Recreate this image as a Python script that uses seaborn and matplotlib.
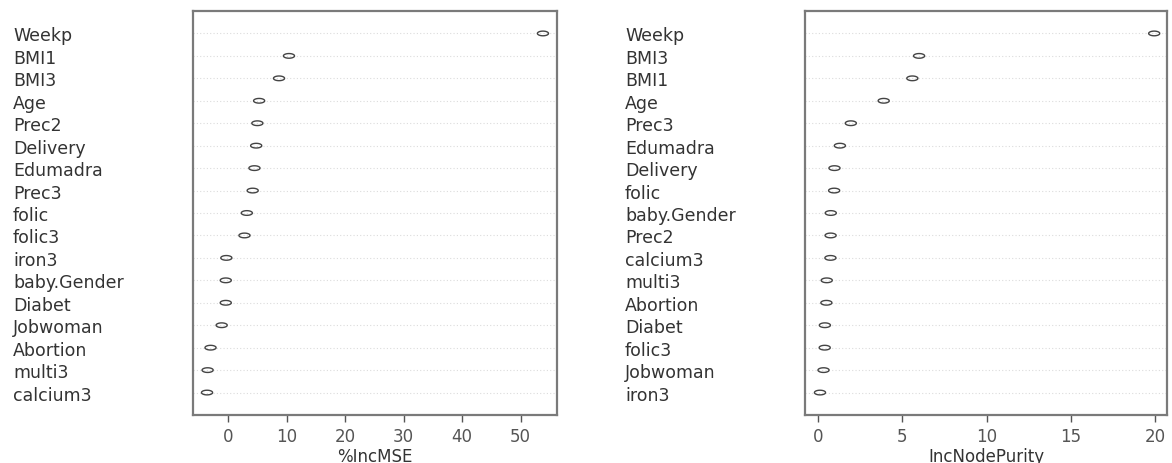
import numpy as np
import pandas as pd
import matplotlib
matplotlib.use("Agg")
import matplotlib.pyplot as plt
import seaborn as sns

# Variable importance from the random forest, sorted per measure
mse_vars = ["Weekp", "BMI1", "BMI3", "Age", "Prec2", "Delivery", "Edumadra",
            "Prec3", "folic", "folic3", "iron3", "baby.Gender", "Diabet",
            "Jobwoman", "Abortion", "multi3", "calcium3"]
mse_vals = [53.8, 10.4, 8.7, 5.3, 5.0, 4.8, 4.5, 4.2, 3.2, 2.8, -0.3, -0.4,
            -0.4, -1.1, -3.0, -3.5, -3.6]

purity_vars = ["Weekp", "BMI3", "BMI1", "Age", "Prec3", "Edumadra", "Delivery",
               "folic", "baby.Gender", "Prec2", "calcium3", "multi3", "Abortion",
               "Diabet", "folic3", "Jobwoman", "iron3"]
purity_vals = [19.95, 6.0, 5.6, 3.9, 1.95, 1.3, 0.98, 0.96, 0.76, 0.75, 0.74,
               0.52, 0.5, 0.41, 0.4, 0.33, 0.12]

mse_ticks = [0, 10, 20, 30, 40, 50]
purity_ticks = [0, 5, 10, 15, 20]

sns.set_style("white")
plt.rcParams["font.family"] = ["DejaVu Sans"]

fig = plt.figure(figsize=(11.72, 4.64), dpi=100)
ax1 = fig.add_axes([193 / 1172, 48 / 464, 364 / 1172, 404 / 464])
ax2 = fig.add_axes([805 / 1172, 48 / 464, 362 / 1172, 404 / 464])

# flattened open ellipse marker
t = np.linspace(0, 2 * np.pi, 60)
ellipse = np.column_stack([np.cos(t), 0.42 * np.sin(t)])


def dotchart(ax, names, vals, ticks, xlim, xlabel):
    df = pd.DataFrame({"var": names, "imp": vals})
    sns.stripplot(data=df, x="imp", y="var", order=names, jitter=False,
                  marker=ellipse, size=8, ax=ax, zorder=3)
    for coll in ax.collections:
        coll.set_facecolor("none")
        coll.set_edgecolor("#444444")
        coll.set_linewidth(1.0)
    ax.set_ylim(len(names), -1)
    ax.set_xlim(*xlim)
    ax.set_xticks(ticks)
    ax.set_xlabel(xlabel, fontsize=12, color="#333333", labelpad=1)
    ax.set_ylabel("")
    ax.grid(axis="y", linestyle=(0, (1, 2)), color="#dcdcdc", linewidth=0.8)
    ax.grid(axis="x", visible=False)
    ax.set_axisbelow(True)
    for s in ax.spines.values():
        s.set_visible(True)
        s.set_color("#7a7a7a")
        s.set_linewidth(1.6)
    ax.tick_params(axis="x", direction="out", length=5, width=1,
                   color="#555555", labelsize=12, labelcolor="#555555", pad=4,
                   bottom=True)
    ax.tick_params(axis="y", length=0, pad=129.6, labelsize=12.5,
                   labelcolor="#333333")
    for lab in ax.get_yticklabels():
        lab.set_horizontalalignment("left")


dotchart(ax1, mse_vars, mse_vals, mse_ticks, (-6.0, 56.2), "%IncMSE")
dotchart(ax2, purity_vars, purity_vals, purity_ticks, (-0.77, 20.71), "IncNodePurity")

fig.savefig("out.png", dpi=100)
